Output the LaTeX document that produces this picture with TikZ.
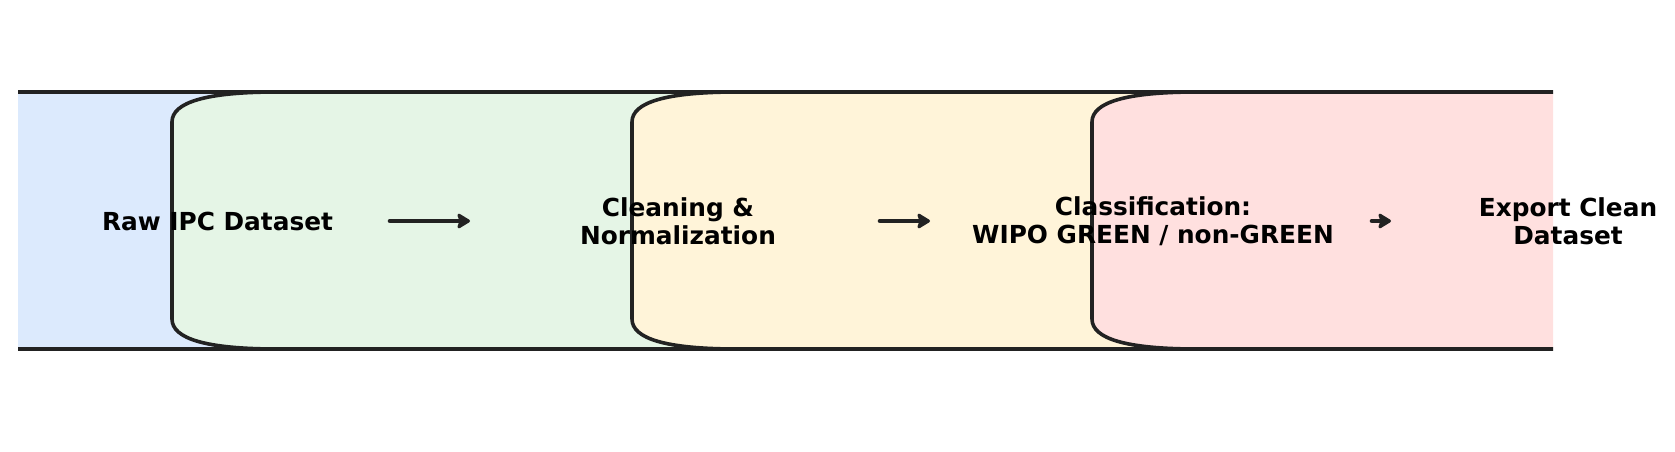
\documentclass[tikz,border=0pt]{standalone}
\usepackage{fontspec}
\setmainfont{DejaVu Sans}
\usetikzlibrary{arrows.meta}
\definecolor{rimgray}{HTML}{222222}
\definecolor{rawblue}{HTML}{DCEAFD}
\definecolor{cleangreen}{HTML}{E5F5E6}
\definecolor{classyellow}{HTML}{FFF4D9}
\definecolor{exportpink}{HTML}{FFE0DF}
\begin{document}
\begin{tikzpicture}[x=0.5pt,y=0.5pt,
stage/.style ={draw=rimgray, line width=1.8pt},
label/.style ={font=\bfseries\fontsize{12.4}{14.2}\selectfont,
  align=center, inner sep=0pt
},
flow/.style ={draw=rimgray, line width=2.3pt, line cap=round,
  -{Stealth[length=7.5pt,width=9pt,inset=1.5pt,round]}
}]
\useasboundingbox (0,0) rectangle (1675,451);
% stage boxes, clipped at the plot edges
\begin{scope}
\clip (18,0) rectangle (1553,451);
\foreach \xl/\col in {-288/rawblue, 172/cleangreen, 632/classyellow, 1092/exportpink}{
  \draw[stage, fill=\col] (\xl,329) .. controls (\xl,349) and (\xl+35,359) .. (\xl+105,359)
    -- (\xl+795,359) .. controls (\xl+865,359) and (\xl+900,349) .. (\xl+900,329)
    -- (\xl+900,132) .. controls (\xl+900,112) and (\xl+865,102) .. (\xl+795,102)
    -- (\xl+105,102) .. controls (\xl+35,102) and (\xl,112) .. (\xl,132) -- cycle;
}
\end{scope}
\node (raw) at (217.5,230) [label] {Raw IPC Dataset};
\node (clean) at (678,230) [label] {Cleaning \&\\Normalization};
\node (class) at (1153,230) [label] {Classification:\\WIPO GREEN / non-GREEN};
\node (export) at (1568,230) [label] {Export Clean\\Dataset};
\coordinate (f1a) at (390,230);
\coordinate (f1b) at (470,230);
\coordinate (f2a) at (880,230);
\coordinate (f2b) at (930,230);
\coordinate (f3a) at (1372,230);
\coordinate (f3b) at (1391,230);
\draw[flow] (f1a) -- (f1b);
\draw[flow] (f2a) -- (f2b);
\draw[flow] (f3a) -- (f3b);
\end{tikzpicture}
\end{document}
